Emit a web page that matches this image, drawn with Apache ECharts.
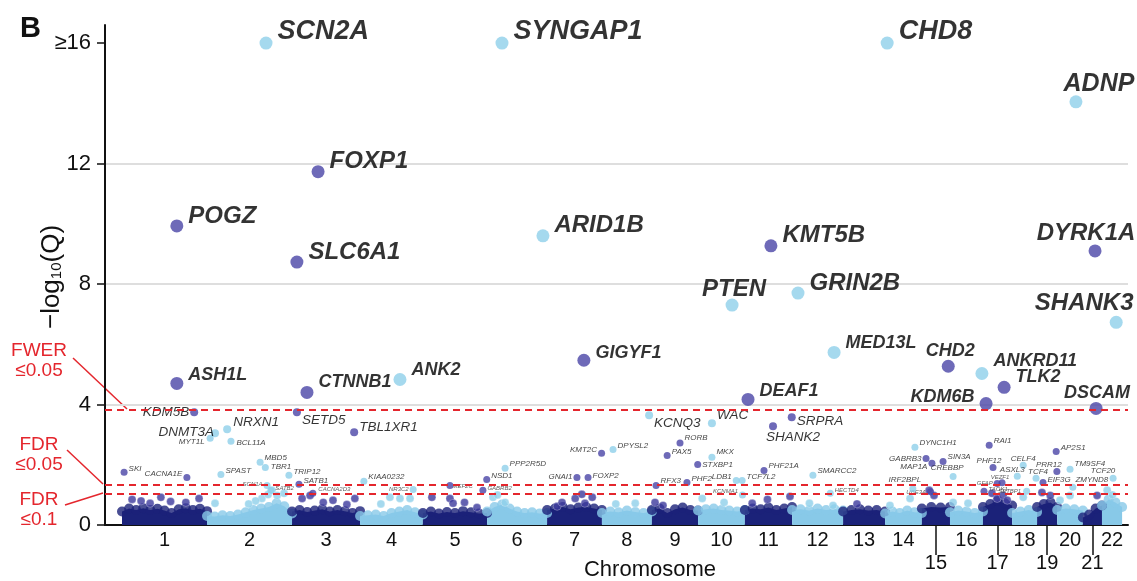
<!DOCTYPE html>
<html>
<head>
<meta charset="utf-8">
<script src="https://cdn.jsdelivr.net/npm/echarts@6/dist/echarts.min.js"></script>
<style>html,body{margin:0;padding:0;background:#fff}#chart{width:1137px;height:581px}</style>
</head>
<body>
<div id="chart"></div>
<script>
// ---------------- DATA ----------------
const chrNames = ['1','2','3','4','5','6','7','8','9','10','11','12','13','14','15','16','17','18','19','20','21','22'];
const chrLengthMb = [245,245,196,181,185,173,158,144,133,135,136,147,121,106,81,95,84,72,58,74,55,58];
const lowerRowChr = ['15','17','19','21'];
const yTickValues = [0,4,8,12,16];
const thresholdLabels = ['FWER\n≤0.05','FDR\n≤0.05','FDR\n≤0.1'];
const thresholdQ = [3.84,1.35,1.05];

// [gene, chromosome, position within chromosome (Mb), -log10(Q)]
const genesLarge = [
  ['SCN2A',2,170,16],['SYNGAP1',6,43,16],['CHD8',14,6,16],['ADNP',20,54,14.05],
  ['FOXP1',3,75,11.73],['POGZ',1,158,9.93],['SLC6A1',3,14,8.73],['ARID1B',6,161,9.6],
  ['KMT5B',11,75,9.27],['DYRK1A',21,35,9.1],['PTEN',10,98,7.3],['GRIN2B',12,17,7.7],
  ['SHANK3',22,41,6.73],['MED13L',12,121,5.73],['ASH1L',1,158,4.7],['CTNNB1',3,43,4.4],
  ['ANK2',4,115,4.83],['GIGYF1',7,106,5.47],['DEAF1',11,9,4.17],['CHD2',15,76,5.27],
  ['ANKRD11',16,92,5.03],['TLK2',17,61,4.57],['KDM6B',17,9,4.03],['DSCAM',21,38,3.87]
];
const genesMedium = [
  ['KDM5B',1,208,3.74],['DNMT3A',2,23,3.05],['NRXN1',2,58,3.18],['SETD5',3,14,3.74],
  ['TBL1XR1',3,179,3.08],['KCNQ3',8,136,3.64],['WAC',10,40,3.38],['SRPRA',11,135,3.58],
  ['SHANK2',11,81,3.28]
];
const genesSmall = [
  ['SKI',1,6,1.75],['CACNA1E',1,187,1.58],['MYT1L',2,9,2.88],['BCL11A',2,69,2.78],
  ['SPAST',2,40,1.68],['MBD5',2,153,2.08],['TBR1',2,168,1.91],['TRIP12',2,236,1.65],
  ['SATB1',3,20,1.35],['KIAA0232',4,11,1.45],['NSD1',5,184,1.51],['PPP2R5D',6,52,1.88],
  ['GNAI1',7,86,1.58],['FOXP2',7,118,1.58],['KMT2C',7,157,2.38],['DPYSL2',8,32,2.51],
  ['RORB',9,81,2.72],['PAX5',9,44,2.31],['MKX',10,40,2.25],['STXBP1',9,132,2.01],
  ['PHF21A',11,55,1.81],['SMARCC2',12,60,1.65],['LDB1',10,110,1.48],['TCF7L2',10,127,1.48],
  ['RFX3',9,12,1.31],['PHF2',9,101,1.41],['DYNC1H1',14,86,2.58],['GABRB3',15,12,2.21],
  ['MAP1A',15,29,2.05],['SIN3A',15,61,2.11],['CREBBP',16,9,1.61],['RAI1',17,18,2.65],
  ['PHF12',17,29,1.91],['CELF4',18,32,1.98],['PRR12',19,57,1.78],['AP2S1',19,55,2.44],
  ['TM9SF4',20,37,1.85],['EIF3G',19,17,1.41],['TCF20',22,32,1.55],
  ['ASXL3',18,15,1.62],['TCF4',18,69,1.55],['IRF2BPL',14,80,1.2],['ZMYND8',20,45,1.25]
];
const genesTiny = [
  ['SCN1A',2,173,1.31],['SATB2',2,184,1.15],['CACNA2D3',3,60,1.05],['NR3C2',4,153,1.18],
  ['MEF2C',5,78,1.31],['GABRB2',5,173,1.15],['KCNMA1',10,128,1.0],['HECTD4',12,110,1.05],
  ['UBE3A',15,25,1.1],['TAOK1',17,3,1.12],['GFAP',17,41,1.38],['VEZF1',17,55,1.4],
  ['SETBP1',18,42,1.12]
];
// unlabelled genes above the bulk: [chromosome, position (Mb), -log10(Q)]
const otherGenes = [
  [1,29,0.85],[1,112,0.92],[1,184,0.75],[1,222,0.88],[1,81,0.72],[1,55,0.8],[1,140,0.78],
  [2,23,0.72],[2,158,0.88],[2,176,1.01],[2,187,1.15],[2,202,0.98],[2,222,1.05],[2,140,0.8],[2,120,0.7],
  [3,29,0.88],[3,52,0.98],[3,118,0.82],[3,158,0.68],[3,181,0.88],[3,90,0.75],
  [4,86,0.92],[4,115,0.88],[4,144,0.88],[4,60,0.7],
  [5,26,0.92],[5,78,0.88],[5,87,0.72],[5,156,0.58],[5,120,0.75],
  [6,17,0.92],[6,52,0.75],[6,30,1.0],
  [7,29,0.62],[7,43,0.75],[7,81,0.88],[7,109,0.72],[7,130,0.92],[7,100,1.02],
  [8,96,0.72],[8,40,0.7],[9,9,0.75],[9,32,0.65],[10,12,0.88],[10,75,0.75],[11,21,0.72],[11,130,0.95],[11,65,0.85],
  [12,118,0.65],[12,50,0.72],[13,40,0.7],[14,14,0.65],[14,72,0.88],[15,21,1.15],[15,35,0.98],
  [16,9,0.75],[16,52,0.72],[17,26,1.05],[17,41,0.88],[17,58,0.98],[17,70,0.82],
  [18,32,0.92],[19,14,1.08],[19,38,0.98],[20,8,0.82],[20,37,0.98],[21,41,0.98],[22,15,1.15],[22,30,1.0]
];
// upper envelope of the dense bulk of genes, per chromosome, evenly spaced along it
const bulkTop = [
  [0.45,0.55,0.5,0.56,0.5,0.54,0.48,0.4,0.52,0.56,0.5,0.54,0.46],
  [0.3,0.28,0.32,0.3,0.35,0.42,0.5,0.55,0.6,0.72,0.62,0.38],
  [0.45,0.5,0.43,0.48,0.52,0.45,0.5,0.46,0.4,0.46],
  [0.3,0.32,0.35,0.3,0.4,0.45,0.5,0.42,0.35],
  [0.4,0.45,0.38,0.43,0.4,0.46,0.42,0.38,0.4],
  [0.45,0.6,0.68,0.55,0.45,0.4,0.42,0.38,0.4],
  [0.5,0.55,0.6,0.52,0.58,0.6,0.55,0.5],
  [0.4,0.45,0.42,0.48,0.43,0.4,0.45],
  [0.5,0.55,0.4,0.52,0.58,0.5,0.48],
  [0.48,0.52,0.55,0.5,0.48,0.45,0.5],
  [0.5,0.55,0.52,0.58,0.5,0.55,0.6],
  [0.5,0.52,0.48,0.55,0.5,0.52,0.48],
  [0.45,0.5,0.52,0.48,0.5,0.45],
  [0.38,0.45,0.4,0.48,0.42,0.4],
  [0.55,0.6,0.58,0.6],
  [0.42,0.48,0.45,0.4,0.45],
  [0.6,0.7,0.8,0.72,0.65],
  [0.4,0.45,0.5,0.43],
  [0.6,0.7,0.75,0.6],
  [0.5,0.55,0.52,0.48],
  [0.25,0.35,0.55,0.65],
  [0.65,0.85,0.75,0.6]
];

// ---------------- STYLE ----------------
const FONT = "'Liberation Sans', Arial, Helvetica, sans-serif";
const BULK_DARK = '#1b2279', BULK_LIGHT = '#88c9e8';
const PT_DARK = '#4a45a6', PT_LIGHT = '#8fd0ea';
const RED = '#e4262d';

const labelPlace = {
  SCN2A:['right',0,-12], SYNGAP1:['right',0,-12], CHD8:['right',0,-12], ADNP:['top',23,6],
  FOXP1:['right',0,-10], POGZ:['right',0,-10], SLC6A1:['right',0,-10], ARID1B:['right',0,-10],
  KMT5B:['right',0,-10], DYRK1A:['top',-9,6], PTEN:['top',2,8], GRIN2B:['right',0,-10],
  SHANK3:['top',-32,5], MED13L:['right',0,-9], ASH1L:['right',0,-8], CTNNB1:['right',0,-10],
  ANK2:['right',0,-9], GIGYF1:['right',0,-7], DEAF1:['right',0,-8], CHD2:['top',2,5],
  ANKRD11:['right',0,-12], TLK2:['right',0,-10], KDM6B:['left',0,-7], DSCAM:['top',1,5],
  KDM5B:['left',4,0], DNMT3A:['left',8,-1], NRXN1:['right',-3,-7], SETD5:['right',-4,8],
  TBL1XR1:['right',-4,-5], KCNQ3:['right',-4,8], WAC:['right',-4,-8], SRPRA:['right',-4,4],
  SHANK2:['bottom',20,-5],
  SKI:['right',-4,-4], CACNA1E:['left',4,-4], MYT1L:['left',3,4], BCL11A:['right',-3,2],
  SPAST:['right',-4,-4], MBD5:['right',-4,-5], TBR1:['right',-3,-1], TRIP12:['right',-4,-4],
  SATB1:['right',-4,-4], KIAA0232:['right',-4,-5], NSD1:['right',-4,-4], PPP2R5D:['right',-4,-5],
  GNAI1:['left',4,-1], FOXP2:['right',-4,-2], KMT2C:['left',4,-4], DPYSL2:['right',-4,-4],
  RORB:['right',-4,-5], PAX5:['right',-4,-4], MKX:['right',-4,-5], STXBP1:['right',-4,0],
  PHF21A:['right',-4,-5], SMARCC2:['right',-4,-5], LDB1:['left',4,-4], TCF7L2:['right',-4,-4],
  RFX3:['right',-4,-5], PHF2:['right',-4,-4], DYNC1H1:['right',-4,-5], GABRB3:['left',4,0],
  MAP1A:['left',4,4], SIN3A:['right',-4,-5], CREBBP:['top',-6,4], RAI1:['right',-4,-4],
  PHF12:['top',-4,6], CELF4:['top',0,6], PRR12:['top',-8,6], AP2S1:['right',-4,-4],
  TM9SF4:['right',-4,-5], EIF3G:['right',-4,-3], TCF20:['top',-10,5],
  ASXL3:['top',-5,6], TCF4:['top',2,6], IRF2BPL:['top',-8,3], ZMYND8:['top',19,5],
  SCN1A:['left',4,-1], SATB2:['right',-4,-2], CACNA2D3:['right',-3,-4], NR3C2:['left',4,0],
  MEF2C:['right',-6,1], GABRB2:['right',-4,-2], KCNMA1:['left',4,-4], HECTD4:['right',-4,-3],
  UBE3A:['left',4,0], TAOK1:['right',-4,-2], GFAP:['left',4,0], VEZF1:['top',-2,6],
  SETBP1:['left',3,0]
};
const largeFont = q => (q >= 16 ? 27 : q >= 13 ? 25 : q > 6 ? 24 : 18);

// ---------------- SCALES ----------------
const chrStart = [];
chrLengthMb.reduce((acc, L, i) => { chrStart[i] = acc; return acc + L; }, 0);
const chrCenter = chrStart.map((s, i) => s + chrLengthMb[i] / 2);
const genomeX = (chr, pos) => chrStart[chr - 1] + pos;
const isDark = chr => chr % 2 === 1;

function geneItems(list, size, fontSize, bold, color) {
  return list.map(([g, chr, pos, q]) => {
    const p = labelPlace[g] || ['right', -4, -4];
    const fs = typeof fontSize === 'function' ? fontSize(q) : fontSize;
    return {
      name: g,
      value: [genomeX(chr, pos), Math.min(q, 16)],
      symbolSize: size,
      itemStyle: { color: isDark(chr) ? PT_DARK : PT_LIGHT },
      label: {
        show: true, formatter: g, position: p[0], offset: [p[1], p[2]], distance: 5,
        fontFamily: FONT, fontStyle: 'italic', fontWeight: bold ? 'bold' : 'normal',
        fontSize: fs, color: color || '#000'
      }
    };
  });
}

const bulkDots = [];
bulkTop.forEach((prof, i) => {
  prof.forEach((h, k) => {
    bulkDots.push({
      value: [chrStart[i] + chrLengthMb[i] * k / (prof.length - 1), h],
      itemStyle: { color: i % 2 === 0 ? BULK_DARK : BULK_LIGHT }
    });
  });
});

const otherItems = otherGenes.map(([chr, pos, q]) => ({
  value: [genomeX(chr, pos), q],
  itemStyle: { color: isDark(chr) ? '#3c3a9c' : PT_LIGHT }
}));

const chart = echarts.init(document.getElementById('chart'), null, { renderer: 'canvas' });

const option = {
  animation: false,
  backgroundColor: '#fff',
  textStyle: { fontFamily: FONT },
  grid: { left: 105, right: 9, top: 25, bottom: 56 },
  xAxis: {
    type: 'value', min: -49, max: 2899,
    axisLine: { show: true, onZero: false, lineStyle: { color: '#111', width: 2 } },
    splitLine: { show: false },
    axisTick: {
      show: true, length: 30, lineStyle: { color: '#111', width: 1.5 },
      customValues: lowerRowChr.map(c => chrCenter[chrNames.indexOf(c)])
    },
    axisLabel: {
      show: true, margin: 5, fontSize: 20, color: '#111', fontFamily: FONT,
      customValues: chrCenter,
      formatter: function (v) {
        let best = 0;
        chrCenter.forEach((c, i) => { if (Math.abs(c - v) < Math.abs(chrCenter[best] - v)) best = i; });
        const n = chrNames[best];
        return lowerRowChr.indexOf(n) >= 0 ? '{lo|' + n + '}' : n;
      },
      rich: { lo: { fontSize: 20, color: '#111', fontFamily: FONT, padding: [23, 0, 0, 0] } }
    }
  },
  yAxis: {
    type: 'value', min: 0, max: 16.6, interval: 2,
    axisLine: { show: true, onZero: false, lineStyle: { color: '#111', width: 2 } },
    axisTick: { show: true, length: 8, lineStyle: { color: '#111', width: 1.5 }, customValues: yTickValues },
    axisLabel: {
      show: true, margin: 14, fontSize: 22, color: '#111', fontFamily: FONT,
      customValues: yTickValues,
      formatter: v => (yTickValues.indexOf(v) < 0 ? '' : (v === 16 ? '≥16' : String(v)))
    },
    splitLine: { show: true, showMinLine: false, showMaxLine: false, lineStyle: { color: '#dedede', width: 2 } }
  },
  series: [
    {
      type: 'custom', coordinateSystem: 'cartesian2d', silent: true, z: 1, clip: true,
      data: chrNames.map((n, i) => [chrCenter[i], 0, i]),
      renderItem: function (params, api) {
        const i = api.value(2);
        const prof = bulkTop[i], s = chrStart[i], L = chrLengthMb[i];
        const pts = [api.coord([s, 0])];
        prof.forEach((h, k) => pts.push(api.coord([s + L * k / (prof.length - 1), h])));
        pts.push(api.coord([s + L, 0]));
        return { type: 'polygon', shape: { points: pts }, style: { fill: i % 2 === 0 ? BULK_DARK : BULK_LIGHT } };
      }
    },
    { type: 'scatter', silent: true, z: 2, symbolSize: 10, data: bulkDots, clip: true },
    {
      type: 'scatter', silent: true, z: 3, symbolSize: 8, data: otherItems,
      itemStyle: { borderColor: 'rgba(255,255,255,0.6)', borderWidth: 0.6 },
      markLine: {
        silent: true, symbol: ['none', 'none'], z: 10,
        lineStyle: { color: RED, type: [7, 5], width: 2 },
        label: { show: false },
        data: thresholdQ.map(q => ({ yAxis: q }))
      }
    },
    { type: 'scatter', z: 3, data: geneItems(genesTiny, 7, 6, false, '#333') },
    { type: 'scatter', z: 4, data: geneItems(genesSmall, 7, 8, false, '#111') },
    { type: 'scatter', z: 5, data: geneItems(genesMedium, 8, 13.5, false) },
    { type: 'scatter', z: 6, data: geneItems(genesLarge, 13, largeFont, true) }
  ],
  graphic: [
    { type: 'text', left: 20, top: 14, style: { text: 'B', font: 'bold 29px ' + FONT, fill: '#111' } },
    {
      type: 'text', x: 52, y: 277, rotation: Math.PI / 2,
      style: {
        text: '−log{s|10}(Q)', fontSize: 26, fontFamily: FONT, fill: '#111',
        align: 'center', verticalAlign: 'middle',
        rich: { s: { fontSize: 15, fontFamily: FONT, fill: '#111', padding: [10, 0, 0, 0] } }
      }
    },
    { type: 'text', x: 39, y: 361, style: { text: thresholdLabels[0], fontSize: 19, lineHeight: 20, fontFamily: FONT, fill: RED, align: 'center', verticalAlign: 'middle' } },
    { type: 'text', x: 39, y: 455, style: { text: thresholdLabels[1], fontSize: 19, lineHeight: 20, fontFamily: FONT, fill: RED, align: 'center', verticalAlign: 'middle' } },
    { type: 'text', x: 39, y: 510, style: { text: thresholdLabels[2], fontSize: 19, lineHeight: 20, fontFamily: FONT, fill: RED, align: 'center', verticalAlign: 'middle' } },
    { type: 'line', shape: { x1: 73, y1: 358, x2: 127, y2: 409 }, style: { stroke: RED, lineWidth: 1.5 } },
    { type: 'line', shape: { x1: 67, y1: 450, x2: 103, y2: 484 }, style: { stroke: RED, lineWidth: 1.5 } },
    { type: 'line', shape: { x1: 65, y1: 505, x2: 103, y2: 493 }, style: { stroke: RED, lineWidth: 1.5 } },
    { type: 'text', x: 650, y: 570, style: { text: 'Chromosome', fontSize: 22, fontFamily: FONT, fill: '#111', align: 'center', verticalAlign: 'middle' } }
  ]
};
chart.setOption(option);
</script>
</body>
</html>
